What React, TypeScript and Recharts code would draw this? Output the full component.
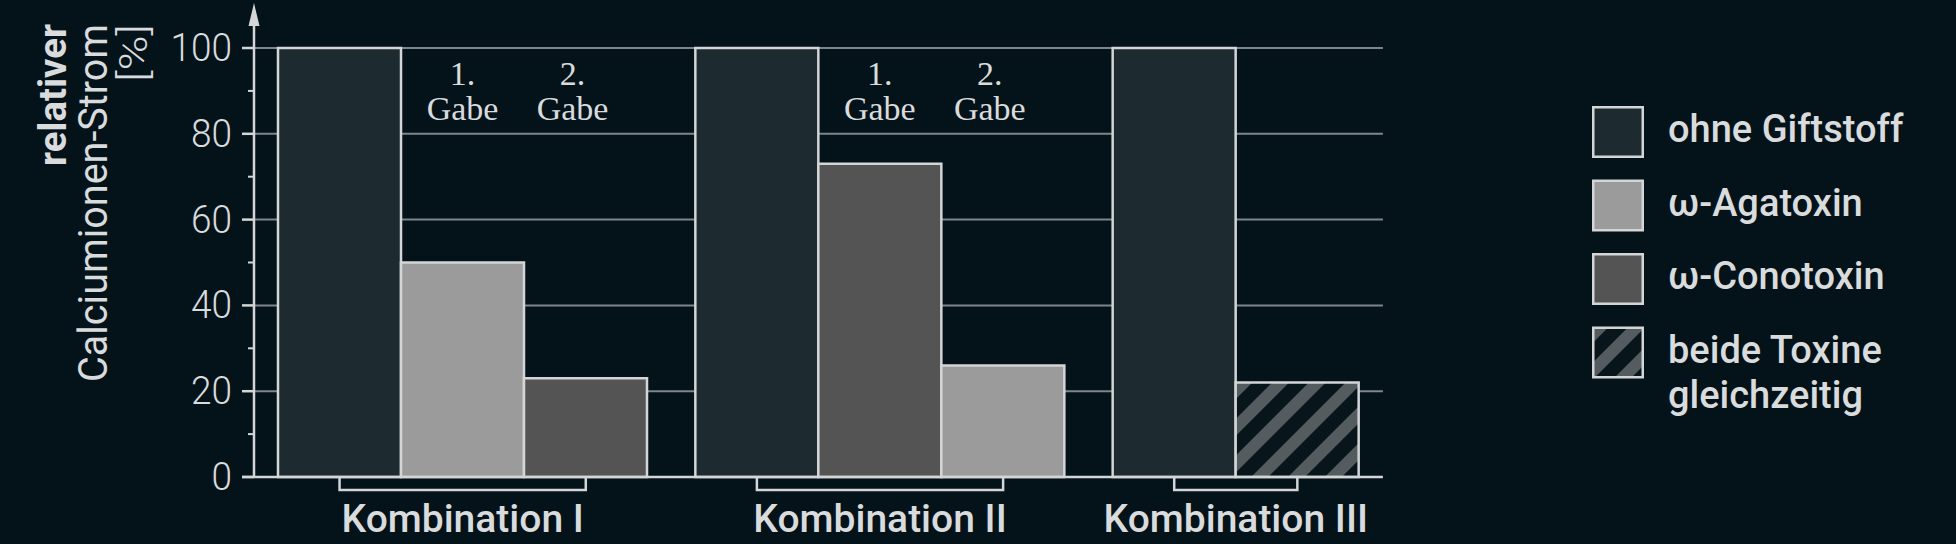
import React from 'react';
import {
  BarChart,
  Bar,
  XAxis,
  YAxis,
  CartesianGrid,
  ReferenceLine,
  Legend,
  Cell,
  LabelList,
} from 'recharts';

// ---------- data ----------
const categories = ['Kombination I', 'Kombination II', 'Kombination III'];
const ohneGiftstoff = [100, 100, 100];
const ersteGabe = [50, 73, 22];
const zweiteGabe: (number | null)[] = [23, 26, null];
const ersteGabeStoff = ['agatoxin', 'conotoxin', 'beide'];
const zweiteGabeStoff: (string | null)[] = ['conotoxin', 'agatoxin', null];
const gabeBeschriftung = [true, true, false];
const yTicks = [0, 10, 20, 30, 40, 50, 60, 70, 80, 90, 100];
const yGridValues = [20, 40, 60, 80, 100];
const legendKeys = ['ohne', 'agatoxin', 'conotoxin', 'beide'];
const legendLabels = [['ohne Giftstoff'], ['ω-Agatoxin'], ['ω-Conotoxin'], ['beide Toxine', 'gleichzeitig']];
const yTitleLines = ['relativer', 'Calciumionen-Strom', '[%]'];

// ---------- style ----------
const BG = '#04131a';
const STROKE = '#d3d5d6';
const GRID = '#7d868a';
const TEXT = '#d9dbdc';
const FILLS: Record<string, string> = {
  ohne: '#1d2a30',
  agatoxin: '#9b9b9b',
  conotoxin: '#545454',
  beide: 'url(#hatch)',
};

const W = 1956;
const H = 544;
const MARGIN = { top: 48, right: 450, bottom: 7, left: 194 };
const Y_W = 60;
const X_H = 60;
const PLOT_W = W - MARGIN.left - MARGIN.right - Y_W;
const BAND = PLOT_W / categories.length;
const GAP = 24;
const BAR_W = (BAND - 2 * GAP) / 3;

const data = categories.map((k, i) => ({
  kategorie: k,
  ohne: ohneGiftstoff[i],
  gabe1: ersteGabe[i],
  gabe2: zweiteGabe[i],
}));

const barCount = (i: number) =>
  [data[i].ohne, data[i].gabe1, data[i].gabe2].filter((v) => v != null).length;

// ---------- custom pieces ----------
const YTick = (props: any) => {
  const { x, y, payload } = props;
  const v = payload.value;
  if (v % 20 !== 0) {
    return <line x1={x - 6} x2={x} y1={y} y2={y} stroke={STROKE} strokeWidth={2} />;
  }
  const s = String(v);
  return (
    <g>
      <line x1={x - 12} x2={x} y1={y} y2={y} stroke={STROKE} strokeWidth={2.5} />
      <text
        x={x - 22}
        y={y}
        dy={13}
        textAnchor="end"
        fontFamily="Roboto"
        fontWeight={300}
        fontSize={38}
        fill={TEXT}
        textLength={s.length * 20.5}
        lengthAdjust="spacingAndGlyphs"
      >
        {s}
      </text>
    </g>
  );
};

const XTick = (props: any) => {
  const { x, y, payload, index } = props;
  const i = typeof index === 'number' ? index : categories.indexOf(payload.value);
  const n = barCount(i);
  const cx = x + ((n - 3) / 2) * BAR_W;
  const half = ((n - 1) / 2) * BAR_W;
  return (
    <g>
      <polyline
        points={`${cx - half},${y} ${cx - half},${y + 13} ${cx + half},${y + 13} ${cx + half},${y}`}
        fill="none"
        stroke={STROKE}
        strokeWidth={2.5}
      />
      <text
        x={cx}
        y={y + 55}
        textAnchor="middle"
        fontFamily="Roboto"
        fontWeight={500}
        fontSize={39}
        fill={TEXT}
      >
        {payload.value}
      </text>
    </g>
  );
};

const YAxisDecor = (props: any) => {
  const vb = props.viewBox || { x: MARGIN.left, y: MARGIN.top, width: Y_W, height: H - MARGIN.top - MARGIN.bottom - X_H };
  const ax = vb.x + vb.width;
  const top = vb.y;
  const bottom = vb.y + vb.height;
  const titleX = [66, 107, 147];
  const titleSize = [39, 40, 38];
  const titleWeight = [700, 400, 300];
  const titleLen = [142, 358, 58];
  return (
    <g>
      <line x1={ax} x2={ax} y1={bottom + 1} y2={top - 26} stroke={STROKE} strokeWidth={2.5} />
      <polygon
        points={`${ax},${top - 45} ${ax - 5.5},${top - 22} ${ax + 5.5},${top - 22}`}
        fill={STROKE}
      />
      {yTitleLines.map((t, i) => (
        <text
          key={i}
          transform="rotate(-90)"
          x={-(top - 24)}
          y={titleX[i] - MARGIN.left + vb.x}
          textAnchor="end"
          fontFamily="Roboto"
          fontWeight={titleWeight[i]}
          fontSize={titleSize[i]}
          fill={TEXT}
          textLength={titleLen[i]}
          lengthAdjust="spacingAndGlyphs"
        >
          {t}
        </text>
      ))}
    </g>
  );
};

const GridLine = (p: any) => (
  <line
    key={p.key}
    x1={p.x1}
    x2={p.x2 - BAR_W}
    y1={p.y1}
    y2={p.y2}
    stroke={GRID}
    strokeWidth={2}
  />
);

const ZeroLine = (p: any) => (
  <line
    x1={p.x1 - 12}
    x2={p.x2 - BAR_W}
    y1={p.y1}
    y2={p.y2}
    stroke={STROKE}
    strokeWidth={2.5}
  />
);

const gabeLabel = (nr: string, dx: number) => (props: any) => {
  const vb = props.viewBox || props;
  const idx = props.index;
  if (typeof idx === 'number' && !gabeBeschriftung[idx]) return null;
  if (vb == null || vb.x == null) return null;
  const cx = vb.x + vb.width / 2 + dx;
  const base = vb.y + vb.height;
  return (
    <g>
      <text x={cx} y={base - 392} textAnchor="middle" fontFamily="Liberation Serif" fontSize={34} fill={TEXT}>
        {nr}
      </text>
      <text x={cx} y={base - 357} textAnchor="middle" fontFamily="Liberation Serif" fontSize={34} fill={TEXT}>
        Gabe
      </text>
    </g>
  );
};

const LegendContent = () => (
  <svg width={364} height={340} style={{ display: 'block', overflow: 'visible' }}>
    {legendKeys.map((k, i) => {
      const top = i * 73.5;
      return (
        <g key={k}>
          <rect
            x={1.25}
            y={top + 1.25}
            width={49.5}
            height={49.5}
            fill={FILLS[k]}
            stroke={STROKE}
            strokeWidth={2.5}
          />
          {legendLabels[i].map((l, j) => (
            <text
              key={j}
              x={76}
              y={top + 36 + j * 45}
              fontFamily="Roboto"
              fontWeight={500}
              fontSize={38}
              fill={TEXT}
            >
              {l}
            </text>
          ))}
        </g>
      );
    })}
  </svg>
);

export default function App() {
  return (
    <div
      style={{
        position: 'absolute',
        left: 0,
        top: 0,
        width: W,
        height: H,
        background: BG,
        overflow: 'hidden',
      }}
    >
      <svg width={0} height={0} style={{ position: 'absolute' }}>
        <defs>
          <pattern
            id="hatch"
            patternUnits="userSpaceOnUse"
            width={26}
            height={26}
            patternTransform="rotate(45)"
          >
            <rect width={26} height={26} fill="#08161b" />
            <rect width={12} height={26} fill="#545c60" />
          </pattern>
        </defs>
      </svg>
      <BarChart
        width={W}
        height={H}
        data={data}
        margin={MARGIN}
        barCategoryGap={GAP}
        barGap={0}
      >
        <CartesianGrid vertical={false} horizontalValues={yGridValues} horizontal={GridLine} />
        <XAxis
          dataKey="kategorie"
          axisLine={false}
          tickLine={false}
          tickSize={0}
          tickMargin={0}
          interval={0}
          height={X_H}
          tick={XTick}
        />
        <YAxis
          domain={[0, 100]}
          ticks={yTicks}
          interval={0}
          width={Y_W}
          axisLine={false}
          tickLine={false}
          tickSize={0}
          tickMargin={0}
          tick={YTick}
          label={YAxisDecor}
        />
        <Legend
          layout="horizontal"
          align="center"
          verticalAlign="middle"
          content={LegendContent}
          wrapperStyle={{ left: 1592, top: 106, width: 364, height: 340 }}
        />
        <Bar dataKey="ohne" fill={FILLS.ohne} stroke={STROKE} strokeWidth={2.5} isAnimationActive={false} />
        <Bar dataKey="gabe1" stroke={STROKE} strokeWidth={2.5} isAnimationActive={false}>
          {ersteGabeStoff.map((s, i) => (
            <Cell key={i} fill={FILLS[s]} />
          ))}
          <LabelList dataKey="gabe1" content={gabeLabel('1.', 0)} />
        </Bar>
        <Bar dataKey="gabe2" stroke={STROKE} strokeWidth={2.5} isAnimationActive={false}>
          {zweiteGabeStoff.map((s, i) => (
            <Cell key={i} fill={s ? FILLS[s] : 'none'} />
          ))}
          <LabelList dataKey="gabe2" content={gabeLabel('2.', -13)} />
        </Bar>
        <ReferenceLine y={0} shape={ZeroLine} />
      </BarChart>
    </div>
  );
}
